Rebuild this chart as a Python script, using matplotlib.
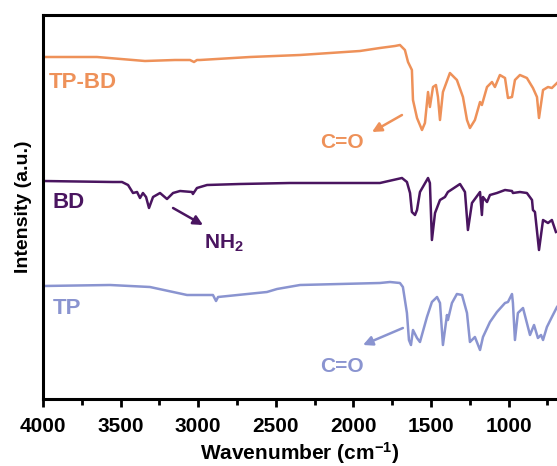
import matplotlib
matplotlib.use('agg')
from matplotlib import pyplot as plt
from matplotlib.ticker import MultipleLocator

plt.rcParams['font.family'] = ['Liberation Sans', 'DejaVu Sans']
plt.rcParams['font.weight'] = 'bold'
plt.rcParams['mathtext.fontset'] = 'custom'
plt.rcParams['mathtext.rm'] = 'Liberation Sans:bold'
plt.rcParams['mathtext.bf'] = 'Liberation Sans:bold'
plt.rcParams['mathtext.default'] = 'rm'

# FTIR traces (wavenumber in cm-1, offset intensity in a.u.)
tpbd_wn = [4000, 3652, 3343, 3150, 3053, 3027, 3008, 2988, 2666, 2344, 2151, 1958,
           1829, 1732, 1700, 1668, 1648, 1623, 1616, 1590, 1558, 1539, 1519, 1507,
           1487, 1468, 1455, 1442, 1423, 1378, 1333, 1294, 1268, 1249, 1217, 1184,
           1172, 1139, 1107, 1088, 1056, 1023, 1004, 978, 959, 927, 882, 843, 817,
           804, 778, 746, 721, 688]
tpbd_int = [341, 341, 337, 338, 338, 336, 338, 338, 341, 343, 345, 347,
            350, 352, 353, 348, 336, 328, 298, 280, 268, 275, 306, 291,
            311, 313, 301, 278, 306, 325, 318, 301, 278, 270, 278, 296,
            293, 311, 316, 311, 323, 320, 300, 301, 318, 323, 320, 310, 301,
            280, 308, 311, 310, 315]

bd_wn = [4000, 3549, 3491, 3452, 3420, 3394, 3375, 3356, 3336, 3317, 3291, 3246,
         3201, 3162, 3117, 3040, 3034, 3008, 2943, 2731, 2409, 1829, 1687, 1655,
         1635, 1623, 1603, 1590, 1571, 1519, 1507, 1494, 1474, 1442, 1410, 1391,
         1313, 1281, 1262, 1236, 1184, 1172, 1165, 1139, 1120, 1075, 1023, 978,
         972, 927, 882, 849, 843, 830, 804, 778, 746, 721, 695]
bd_int = [217, 216, 216, 213, 205, 206, 200, 205, 201, 190, 201, 205,
          199, 205, 207, 206, 204, 210, 213, 214, 215, 215, 220, 216,
          205, 186, 183, 188, 206, 220, 215, 158, 185, 198, 201, 206,
          214, 206, 168, 195, 206, 183, 201, 196, 203, 205, 208, 207,
          205, 206, 205, 198, 188, 186, 148, 178, 175, 178, 166]

tp_wn = [4000, 3568, 3311, 3072, 2905, 2885, 2872, 2557, 2492, 2344, 1829, 1764,
         1700, 1681, 1655, 1642, 1629, 1616, 1590, 1571, 1526, 1494, 1461, 1442,
         1423, 1397, 1391, 1365, 1333, 1300, 1268, 1249, 1217, 1184, 1165, 1120,
         1075, 1023, 1004, 978, 972, 959, 940, 907, 882, 862, 836, 811, 791, 778,
         753, 721, 688]
tp_int = [112, 113, 111, 103, 103, 97, 101, 106, 109, 113, 115, 116,
          115, 111, 85, 58, 53, 68, 60, 56, 81, 96, 101, 95,
          53, 83, 78, 95, 104, 103, 85, 56, 61, 48, 61, 76,
          86, 95, 96, 104, 95, 58, 85, 90, 75, 63, 73, 60, 63, 58,
          71, 81, 91]

c_tpbd = '#EE9159'
c_bd = '#4A1560'
c_tp = '#8A94D0'

fig = plt.figure(figsize=(5.57, 4.66), dpi=100)
ax = fig.add_axes([43 / 557, 67 / 466, 514 / 557, 384 / 466])

ax.plot(tpbd_wn, tpbd_int, color=c_tpbd, lw=1.8)
ax.plot(bd_wn, bd_int, color=c_bd, lw=1.8)
ax.plot(tp_wn, tp_int, color=c_tp, lw=1.8)

ax.set_xlim(4000, 688)
ax.set_ylim(-1, 383)

# sample labels
ax.text(3961, 316, 'TP-BD', color=c_tpbd, fontsize=16, fontweight='bold', ha='left', va='center')
ax.text(3936, 195, 'BD', color=c_bd, fontsize=16, fontweight='bold', ha='left', va='center')
ax.text(3936, 89, 'TP', color=c_tp, fontsize=16, fontweight='bold', ha='left', va='center')

# band assignments
arrow_kw = dict(arrowstyle='-|>', lw=1.8, mutation_scale=14, shrinkA=0, shrinkB=0)
ax.annotate('', xy=(2969, 173), xytext=(3162, 190), arrowprops=dict(color=c_bd, **arrow_kw))
ax.text(2834, 155, 'NH$_2$', color=c_bd, fontsize=15, ha='center', va='center')
ax.annotate('', xy=(1880, 266), xytext=(1687, 283), arrowprops=dict(color=c_tpbd, **arrow_kw))
ax.text(2074, 256, 'C=O', color=c_tpbd, fontsize=15, ha='center', va='center')
ax.annotate('', xy=(1938, 53), xytext=(1681, 70), arrowprops=dict(color=c_tp, **arrow_kw))
ax.text(2074, 31, 'C=O', color=c_tp, fontsize=15, ha='center', va='center')

for side in ['left', 'bottom', 'top']:
    ax.spines[side].set_linewidth(2.2)
ax.spines['right'].set_visible(False)
ax.set_yticks([])
ax.xaxis.set_major_locator(MultipleLocator(500))
ax.xaxis.set_minor_locator(MultipleLocator(250))
ax.tick_params(axis='x', which='major', length=6, width=2, direction='out', labelsize=15, pad=7)
ax.tick_params(axis='x', which='minor', length=4, width=2, direction='out')
for lab in ax.get_xticklabels():
    lab.set_fontweight('bold')

ax.set_xlabel('Wavenumber (cm$^{-1}$)', fontsize=15, fontweight='bold', labelpad=3)
ax.set_ylabel('Intensity (a.u.)', fontsize=14, fontweight='bold', labelpad=8)

plt.savefig('out.png', dpi=100)
plt.close()
